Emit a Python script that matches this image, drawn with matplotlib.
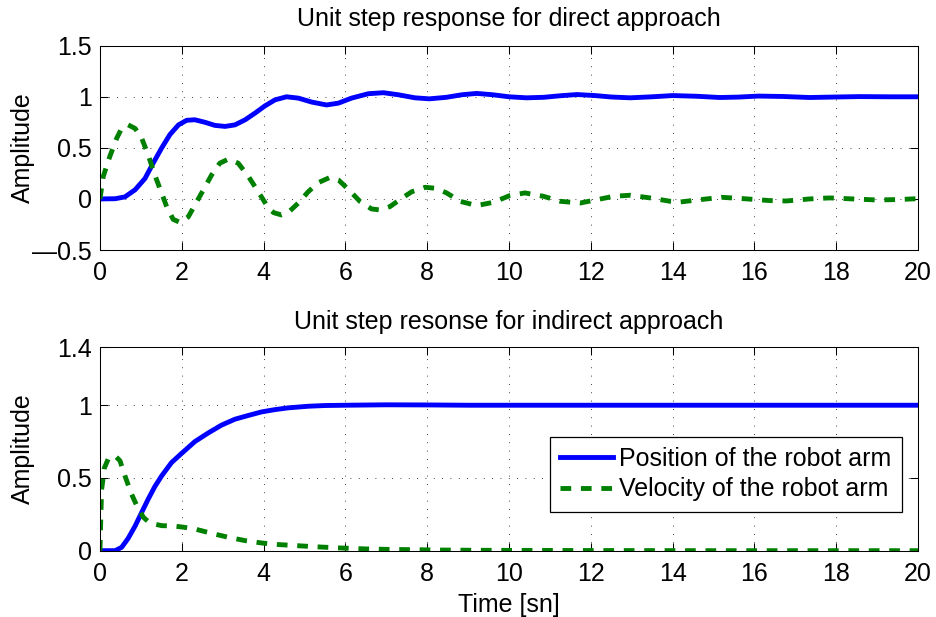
import matplotlib
matplotlib.use('Agg')
from matplotlib import pyplot as plt

plt.rcParams['font.family'] = ['Liberation Sans', 'DejaVu Sans']
FS = 18

# direct approach: position (solid) and velocity (dashed)
t_pos_dir = [0, 0.37, 0.61, 0.86, 1.10, 1.30, 1.51, 1.71, 1.92, 2.12, 2.32, 2.57, 2.81, 3.06,
             3.30, 3.55, 3.79, 4.03, 4.28, 4.56, 4.85, 5.18, 5.54, 5.83, 6.15, 6.56, 6.93, 7.29,
             7.70, 8.05, 8.47, 8.85, 9.21, 9.60, 10.0, 10.43, 10.85, 11.25, 11.66, 12.1, 12.5,
             12.96, 13.5, 14.0, 14.6, 15.15, 15.6, 16.1, 16.7, 17.35, 18.0, 18.57, 19.3, 20]
pos_dir = [0, 0.002, 0.02, 0.09, 0.20, 0.35, 0.50, 0.63, 0.725, 0.77, 0.775, 0.75, 0.72, 0.71,
           0.725, 0.775, 0.84, 0.91, 0.97, 1.0, 0.987, 0.948, 0.92, 0.938, 0.987, 1.03, 1.04, 1.02,
           0.99, 0.98, 0.995, 1.02, 1.033, 1.02, 1.0, 0.99, 0.995, 1.01, 1.022, 1.012, 0.998,
           0.99, 1.0, 1.012, 1.005, 0.993, 0.997, 1.007, 1.003, 0.993, 0.998, 1.002, 1.0, 1.0]

t_vel_dir = [0, 0.08, 0.24, 0.41, 0.53, 0.69, 0.86, 1.02, 1.18, 1.34, 1.51, 1.63, 1.79, 1.96,
             2.16, 2.32, 2.53, 2.73, 2.93, 3.14, 3.38, 3.63, 3.87, 4.12, 4.25, 4.44, 4.60, 4.85,
             5.09, 5.34, 5.62, 5.83, 6.07, 6.36, 6.64, 6.85, 7.09, 7.38, 7.62, 7.95, 8.19, 8.47,
             8.80, 9.21, 9.62, 10.02, 10.39, 10.84, 11.25, 11.74, 12.15, 12.56, 12.96, 13.45,
             13.94, 14.18, 14.67, 15.2, 15.72, 16.37, 16.78, 17.35, 17.84, 18.41, 18.98, 19.54, 20]
vel_dir = [0, 0.22, 0.415, 0.595, 0.69, 0.725, 0.69, 0.595, 0.43, 0.235, 0.055, -0.075, -0.20, -0.23,
           -0.175, -0.06, 0.09, 0.235, 0.35, 0.39, 0.35, 0.22, 0.07, -0.09, -0.135, -0.157, -0.134, -0.04,
           0.07, 0.16, 0.21, 0.186, 0.095, -0.026, -0.098, -0.108, -0.075, 0.007, 0.07, 0.114, 0.105, 0.06,
           -0.023, -0.065, -0.033, 0.033, 0.059, 0.026, -0.023, -0.04, -0.007, 0.026, 0.036, 0.01,
           -0.023, -0.03, -0.007, 0.016, 0.003, -0.016, -0.02, 0, 0.01, 0, -0.01, -0.006, 0.003]

# indirect approach
t_pos_ind = [0, 0.37, 0.53, 0.69, 0.86, 1.02, 1.18, 1.34, 1.51, 1.75, 2.0, 2.32, 2.65, 2.97,
             3.30, 3.63, 3.95, 4.28, 4.60, 5.09, 5.5, 6.0, 7.0, 8.0, 9.0, 12.0, 16.0, 20]
pos_ind = [0, 0, 0.023, 0.085, 0.17, 0.263, 0.355, 0.44, 0.515, 0.606, 0.67, 0.75, 0.81, 0.863,
           0.904, 0.93, 0.954, 0.97, 0.982, 0.993, 0.998, 1.0, 1.003, 1.002, 1.0, 1.0, 1.0, 1.0]

t_vel_ind = [0, 0.02, 0.04, 0.11, 0.2, 0.37, 0.49, 0.61, 0.77, 0.9, 1.06, 1.22, 1.51, 1.79,
             2.08, 2.32, 2.73, 3.14, 3.55, 3.95, 4.3, 4.9, 5.4, 5.93, 6.5, 7.0, 7.6, 8.1, 9.0,
             10.0, 12.0, 15.0, 20]
vel_ind = [0, 0.22, 0.42, 0.57, 0.63, 0.652, 0.618, 0.515, 0.39, 0.31, 0.23, 0.19, 0.172, 0.17,
           0.16, 0.149, 0.119, 0.092, 0.069, 0.053, 0.043, 0.033, 0.025, 0.018, 0.012, 0.009, 0.007,
           0.005, 0.003, 0.002, 0.001, 0, 0]

x_ticks = list(range(0, 21, 2))
y_ticks_dir = [-0.5, 0, 0.5, 1, 1.5]
y_ticks_ind = [0, 0.5, 1, 1.4]
labels = ['Position of the robot arm', 'Velocity of the robot arm']

BLUE = (0, 0, 1)
GREEN = (0, 0.5, 0)
DASH = (0, (2.2, 2.0))


def style(ax, yticks):
    ax.set_xlim(0, 20)
    ax.set_ylim(yticks[0], yticks[-1])
    ax.set_xticks(x_ticks)
    ax.set_yticks(yticks)
    ax.set_yticklabels([f'{v:g}'.replace('-', '\u2014') for v in yticks])
    ax.tick_params(direction='in', top=True, right=True, length=5.5, width=0.75,
                   labelsize=FS)
    ax.tick_params(axis='x', pad=8)
    ax.tick_params(axis='y', pad=6)
    ax.grid(True, color='k', linestyle=(0, (1, 9)), linewidth=0.6)
    for s in ax.spines.values():
        s.set_linewidth(0.75)
    ax.set_ylabel('Amplitude', fontsize=FS)
    ax.yaxis.set_label_coords(-0.079, 0.5)


fig = plt.figure(figsize=(9.36, 6.17), dpi=100)

ax1 = fig.add_axes([0.1068, 0.5948, 0.874, 0.3311])
ax1.plot(t_pos_dir, pos_dir, color=BLUE, lw=3.5)
ax1.plot(t_vel_dir, vel_dir, color=GREEN, lw=3.5, linestyle=DASH)
style(ax1, y_ticks_dir)
ax1.set_title('Unit step response for direct approach', fontsize=FS, pad=14)

ax2 = fig.add_axes([0.1068, 0.1075, 0.874, 0.330])
ax2.plot(t_pos_ind, pos_ind, color=BLUE, lw=3.5, label=labels[0])
ax2.plot(t_vel_ind, vel_ind, color=GREEN, lw=3.5, linestyle=DASH, label=labels[1])
style(ax2, y_ticks_ind)
ax2.set_title('Unit step resonse for indirect approach', fontsize=FS, pad=13)
ax2.set_xlabel('Time [sn]', fontsize=FS, labelpad=5)

leg = ax2.legend(loc='lower right', bbox_to_anchor=(0.980, 0.19), borderaxespad=0,
                 fontsize=FS, fancybox=False, framealpha=1, edgecolor='k',
                 handlelength=2.1, handletextpad=0.25, labelspacing=0.25, borderpad=0.42)
leg.get_frame().set_linewidth(0.9)

fig.savefig('out.png', dpi=100)
